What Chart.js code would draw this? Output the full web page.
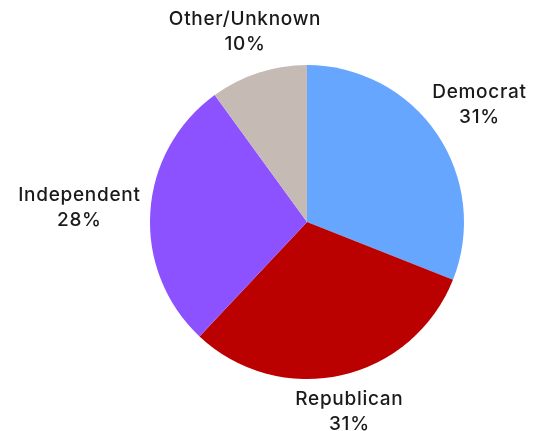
<!DOCTYPE html>
<html><head><meta charset="utf-8">
<script src="https://cdn.jsdelivr.net/npm/chart.js@4"></script>
<style>html,body{margin:0;padding:0;background:#fff;}#wrap{width:535px;height:431px;}</style>
</head><body><div id="wrap"><canvas id="c" width="535" height="431"></canvas></div>
<script>
const categories = ["Democrat", "Republican", "Independent", "Other/Unknown"];
const shares = [31, 31, 28, 10];
const colors = ["#66A6FF", "#BB0000", "#8C52FF", "#C5BBB4"];

const FONT = '500 19px "Inter", "Open Sans", sans-serif';
const LINE = 25;
const labelPlugin = {
  id: 'outLabels',
  afterDatasetsDraw(chart) {
    const ctx = chart.ctx;
    const meta = chart.getDatasetMeta(0);
    ctx.save();
    ctx.font = FONT;
    ctx.letterSpacing = '0.7px';
    ctx.fillStyle = '#1a1a1a';
    ctx.textAlign = 'center';
    ctx.textBaseline = 'middle';
    meta.data.forEach((arc, i) => {
      const p = arc.getProps(['x','y','startAngle','endAngle','outerRadius'], true);
      const mid = (p.startAngle + p.endAngle) / 2;
      const dx = Math.cos(mid), dy = Math.sin(mid);
      const l1 = categories[i], l2 = shares[i] + '%';
      const w = Math.max(ctx.measureText(l1).width, ctx.measureText(l2).width);
      const h = LINE * 2;
      const support = Math.hypot((w / 2) * dx, (h / 2) * dy);
      const d = p.outerRadius + 10 + support;
      const cx = p.x + dx * d, cy = p.y + dy * d;
      ctx.fillText(l1, cx, cy - LINE / 2);
      ctx.fillText(l2, cx, cy + LINE / 2);
    });
    ctx.restore();
  }
};

new Chart(document.getElementById('c'), {
  type: 'pie',
  data: { labels: categories, datasets: [{ data: shares, backgroundColor: colors, borderWidth: 0, hoverOffset: 0 }] },
  options: {
    responsive: false, animation: false,
    layout: { padding: { left: 150, right: 71, top: 65, bottom: 52 } },
    plugins: { legend: { display: false }, tooltip: { enabled: false } }
  },
  plugins: [labelPlugin]
});
</script></body></html>
